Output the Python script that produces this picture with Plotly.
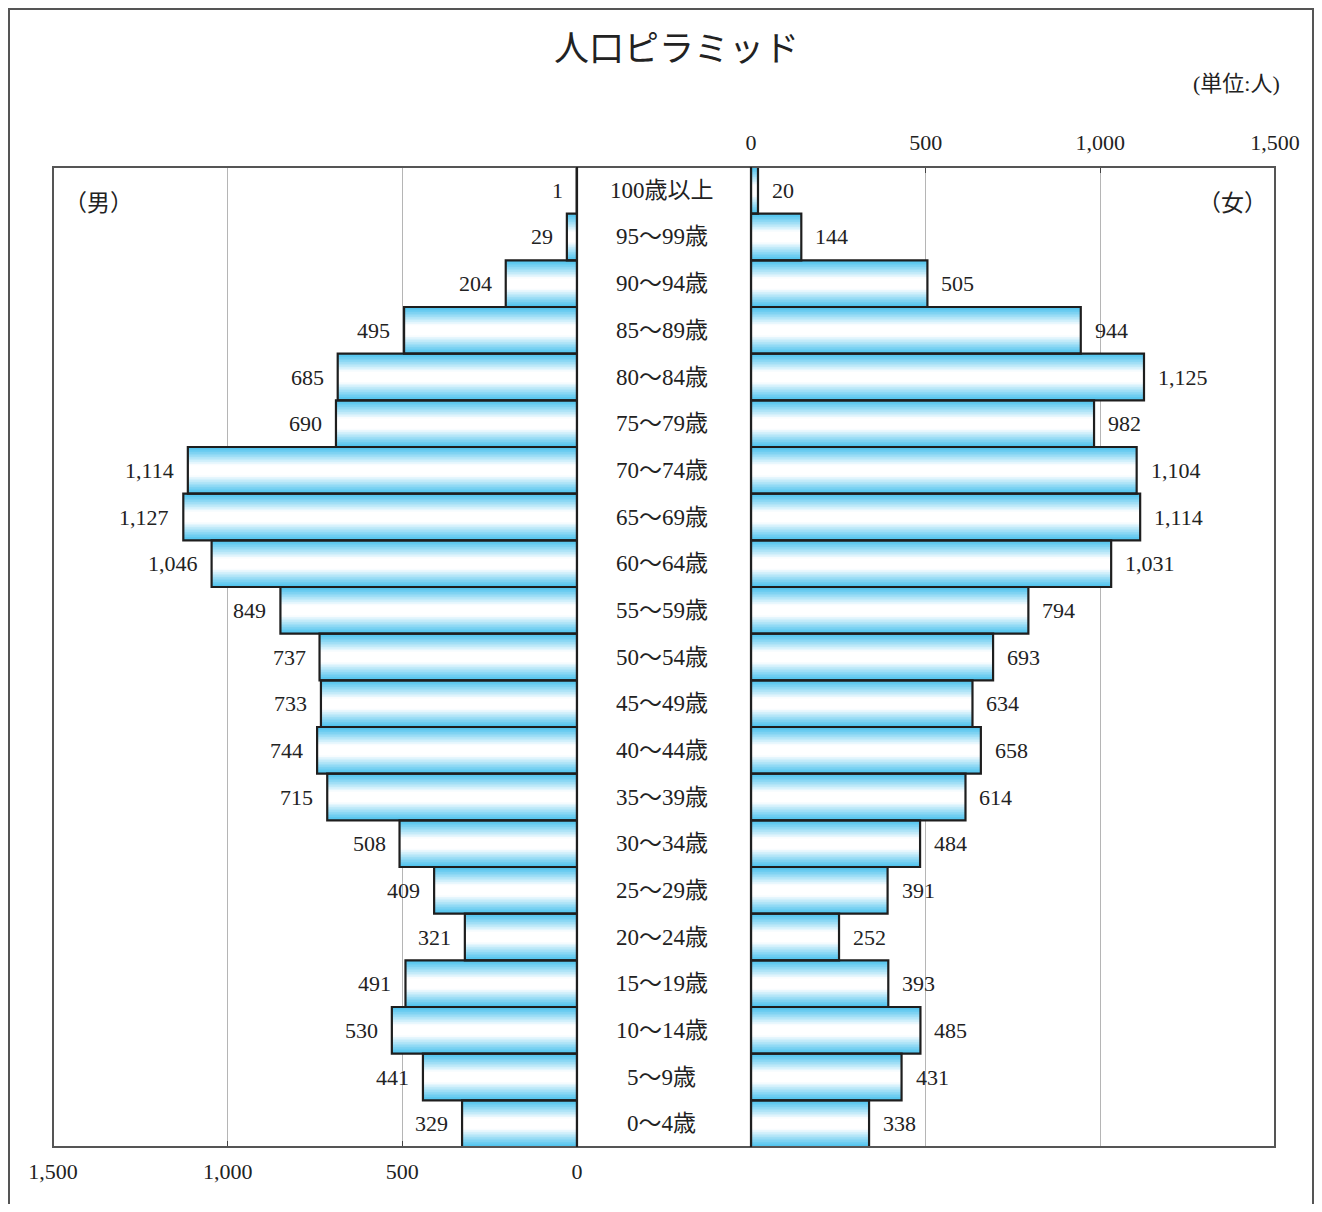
import plotly.graph_objects as go

# ---- data ----
age_groups = ["100歳以上", "95～99歳", "90～94歳", "85～89歳", "80～84歳", "75～79歳",
              "70～74歳", "65～69歳", "60～64歳", "55～59歳", "50～54歳", "45～49歳",
              "40～44歳", "35～39歳", "30～34歳", "25～29歳", "20～24歳", "15～19歳",
              "10～14歳", "5～9歳", "0～4歳"]
male = [1, 29, 204, 495, 685, 690, 1114, 1127, 1046, 849, 737, 733, 744, 715,
        508, 409, 321, 491, 530, 441, 329]
female = [20, 144, 505, 944, 1125, 982, 1104, 1114, 1031, 794, 693, 634, 658, 614,
          484, 391, 252, 393, 485, 431, 338]
tick_vals = [0, 500, 1000, 1500]
tick_text = ["0", "500", "1,000", "1,500"]

OFF = 8  # page body margin
W, H = 1322 - 2 * OFF, 1212 - 2 * OFF
FONT = "Liberation Serif, Noto Sans CJK JP, serif"

def px_x(p):
    return (p - OFF) / W

def px_y(p):
    return 1 - (p - OFF) / H

cat_order = list(reversed(age_groups))

fig = go.Figure()

# gradient layers (edge cyan -> center white)
N = 14
edge = (80, 195, 238)
for i in range(N):
    w = 1 - i / N
    t = min(1.0, (i / (N - 1)) / 0.8)
    t = t ** 1.1
    c = tuple(int(round(edge[k] + (255 - edge[k]) * t)) for k in range(3))
    col = "rgb(%d,%d,%d)" % c
    for xs, xa, ya in ((male, "x", "y"), (female, "x2", "y2")):
        fig.add_trace(go.Bar(x=xs, y=age_groups, orientation="h", width=w,
                             marker=dict(color=col, line=dict(width=0)),
                             xaxis=xa, yaxis=ya, hoverinfo="skip", showlegend=False))

# outlines
for xs, xa, ya in ((male, "x", "y"), (female, "x2", "y2")):
    fig.add_trace(go.Bar(x=xs, y=age_groups, orientation="h", width=1,
                         marker=dict(color="rgba(0,0,0,0)", line=dict(color="#1e1e1e", width=2.2)),
                         xaxis=xa, yaxis=ya, showlegend=False))

annotations = []
for g, v in zip(age_groups, male):
    annotations.append(dict(x=v, y=g, xref="x", yref="y", text=f"{v:,}", showarrow=False,
                            xanchor="right", yanchor="middle", xshift=-12,
                            font=dict(size=22, family=FONT, color="#222")))
for g, v in zip(age_groups, female):
    annotations.append(dict(x=v, y=g, xref="x2", yref="y2", text=f"{v:,}", showarrow=False,
                            xanchor="left", yanchor="middle", xshift=12,
                            font=dict(size=22, family=FONT, color="#222")))
for g in age_groups:
    annotations.append(dict(x=px_x(662), y=g, xref="paper", yref="y", text=g, showarrow=False,
                            xanchor="center", yanchor="middle",
                            font=dict(size=23, family=FONT, color="#222")))

annotations += [
    dict(x=px_x(677), y=px_y(50), xref="paper", yref="paper", text="人口ピラミッド", showarrow=False,
         xanchor="center", yanchor="middle", font=dict(size=35, family=FONT, color="#222")),
    dict(x=px_x(1236), y=px_y(84), xref="paper", yref="paper", text="(単位:人)", showarrow=False,
         xanchor="center", yanchor="middle", font=dict(size=22, family=FONT, color="#222")),
    dict(x=px_x(98), y=px_y(203), xref="paper", yref="paper", text="（男）", showarrow=False,
         xanchor="center", yanchor="middle", font=dict(size=23, family=FONT, color="#222")),
    dict(x=px_x(1232), y=px_y(203), xref="paper", yref="paper", text="（女）", showarrow=False,
         xanchor="center", yanchor="middle", font=dict(size=23, family=FONT, color="#222")),
]

x0L, x1L, x0R, x1R = 53, 577, 751, 1275
yT, yB = 167, 1147

shapes = [
    # outer border
    dict(type="rect", xref="paper", yref="paper", x0=px_x(9), x1=px_x(1313), y0=-0.05, y1=px_y(9),
         line=dict(color="#555", width=2)),
    # plot frame
    dict(type="rect", xref="paper", yref="paper", x0=px_x(x0L), x1=px_x(x1R), y0=px_y(yB), y1=px_y(yT),
         line=dict(color="#555", width=2)),
    dict(type="line", xref="paper", yref="paper", x0=px_x(x1L), x1=px_x(x1L), y0=px_y(yB), y1=px_y(yT),
         line=dict(color="#1e1e1e", width=2.2)),
    dict(type="line", xref="paper", yref="paper", x0=px_x(x0R), x1=px_x(x0R), y0=px_y(yB), y1=px_y(yT),
         line=dict(color="#1e1e1e", width=2.2)),
]

axis_common = dict(tickvals=tick_vals, ticktext=tick_text, showgrid=True, gridcolor="#b5b5b5",
                   gridwidth=1, zeroline=False, ticks="inside", ticklen=6, tickcolor="#444",
                   tickfont=dict(size=22, family=FONT, color="#222"), showline=False,
                   fixedrange=True, automargin=False)

yaxis_common = dict(type="category", categoryorder="array", categoryarray=cat_order,
                    range=[-0.5, len(cat_order) - 0.5], showticklabels=False,
                    showgrid=False, zeroline=False, ticks="", automargin=False, fixedrange=True)

fig.update_layout(
    width=W, height=H, margin=dict(l=0, r=0, t=0, b=0, pad=0, autoexpand=False),
    paper_bgcolor="white", plot_bgcolor="rgba(0,0,0,0)",
    barmode="overlay", showlegend=False,
    xaxis=dict(domain=[px_x(x0L), px_x(x1L)], range=[1500, 0], anchor="y", side="bottom",
               ticklabelstandoff=9, **axis_common),
    xaxis2=dict(domain=[px_x(x0R), px_x(x1R)], range=[0, 1500], anchor="y2", side="top",
                ticklabelstandoff=12, **axis_common),
    yaxis=dict(domain=[px_y(yB), px_y(yT)], anchor="x", **yaxis_common),
    yaxis2=dict(domain=[px_y(yB), px_y(yT)], anchor="x2", **yaxis_common),
    annotations=annotations, shapes=shapes,
)

fig.write_html("out.html")
